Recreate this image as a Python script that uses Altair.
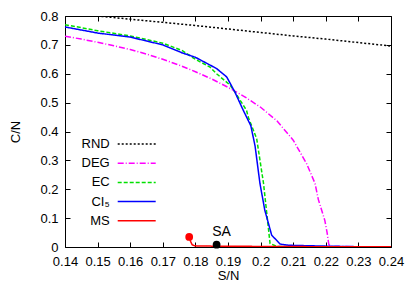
import altair as alt
import pandas as pd

FONT = "Liberation Sans"

series_names = ["RND", "DEG", "EC", "CI₅", "MS"]
series_colors = ["#000000", "#ff00ff", "#00e000", "#0000ff", "#ff0000"]
series_dashes = [[2, 2], [6, 2, 1, 2], [4, 2], [1, 0], [1, 0]]

rnd_x = [0.15, 0.16, 0.17, 0.18, 0.19, 0.20, 0.21, 0.22, 0.23, 0.24]
rnd_y = [0.800, 0.789, 0.778, 0.767, 0.755, 0.743, 0.731, 0.720, 0.708, 0.696]

deg_x = [0.14, 0.145, 0.15, 0.155, 0.16, 0.165, 0.17, 0.175, 0.18, 0.185, 0.19,
         0.195, 0.20, 0.205, 0.21, 0.2141, 0.2167, 0.2177, 0.2197, 0.2204,
         0.2209, 0.2215, 0.23, 0.24]
deg_y = [0.730, 0.720, 0.709, 0.697, 0.684, 0.668, 0.650, 0.630, 0.607, 0.582,
         0.553, 0.521, 0.484, 0.437, 0.370, 0.289, 0.220, 0.165, 0.092, 0.050,
         0.010, 0.002, 0.001, 0.001]

ec_x = [0.14, 0.15, 0.16, 0.17, 0.176, 0.18, 0.1845, 0.1865, 0.1907, 0.1921,
        0.1957, 0.1962, 0.1988, 0.2009, 0.2019, 0.2029, 0.205, 0.21, 0.22,
        0.23, 0.24]
ec_y = [0.770, 0.749, 0.731, 0.706, 0.680, 0.650, 0.623, 0.600, 0.560, 0.537,
        0.473, 0.450, 0.375, 0.220, 0.116, 0.012, 0.002, 0.001, 0.001,
        0.001, 0.001]

ci_x = [0.14, 0.15, 0.16, 0.17, 0.176, 0.18, 0.1835, 0.1865, 0.1896, 0.1921,
        0.1947, 0.1970, 0.1983, 0.1998, 0.2013, 0.2034, 0.206, 0.2085, 0.22,
        0.23, 0.24]
ci_y = [0.762, 0.741, 0.727, 0.700, 0.672, 0.657, 0.636, 0.618, 0.589, 0.537,
        0.473, 0.420, 0.350, 0.220, 0.127, 0.041, 0.010, 0.006, 0.003,
        0.001, 0.001]

ms_x = [0.1781, 0.1785, 0.1790, 0.1797, 0.185, 0.20, 0.22, 0.24]
ms_y = [0.035, 0.020, 0.008, 0.004, 0.003, 0.002, 0.001, 0.001]

sa_x = [0.1865]
sa_y = [0.008]
sa_label = ["SA"]

x_ticks = [0.14, 0.15, 0.16, 0.17, 0.18, 0.19, 0.20, 0.21, 0.22, 0.23, 0.24]
y_ticks = [0.0, 0.1, 0.2, 0.3, 0.4, 0.5, 0.6, 0.7, 0.8]

rows = []
for name, xs, ys in [("RND", rnd_x, rnd_y), ("DEG", deg_x, deg_y),
                     ("EC", ec_x, ec_y), ("CI₅", ci_x, ci_y), ("MS", ms_x, ms_y)]:
    for i, (xv, yv) in enumerate(zip(xs, ys)):
        rows.append({"series": name, "x": xv, "y": yv, "order": i})
lines_df = pd.DataFrame(rows)
ms_start = pd.DataFrame({"x": ms_x[:1], "y": ms_y[:1]})
sa_df = pd.DataFrame({"x": sa_x, "y": sa_y, "label": sa_label})

xscale = alt.Scale(domain=[0.14, 0.24], nice=False, zero=False)
yscale = alt.Scale(domain=[0, 0.8], nice=False, zero=False)

tick_common = dict(domain=False, grid=False, ticks=True, tickSize=alt.ExprRef("-5"),
                   tickWidth=1, tickColor="black")
text_common = dict(labelFont=FONT, labelFontSize=13, labelColor="black",
                   labelFlush=False, labelOverlap=False, titleFont=FONT,
                   titleFontSize=13, titleFontWeight="normal", titleColor="black")

x_bottom = alt.Axis(orient="bottom", values=x_ticks, format=".2~f", labelPadding=13,
                    title="S/N", titlePadding=1, **tick_common, **text_common)
y_left = alt.Axis(orient="left", values=y_ticks, format=".1~f", labelPadding=12,
                  title="C/N", titlePadding=17, **tick_common, **text_common)
x_top = alt.Axis(orient="top", values=x_ticks, labels=False, title=None, **tick_common)
y_right = alt.Axis(orient="right", values=y_ticks, labels=False, title=None, **tick_common)

legend = alt.Legend(orient="none", legendX=61.2, legendY=117.5, title=None,
                    symbolType="M-2,0H2", symbolSize=361, symbolStrokeWidth=1.5,
                    labelAlign="right", labelOffset=alt.ExprRef("-37.5"),
                    labelFont=FONT, labelFontSize=13, labelColor="black",
                    rowPadding=1.2, padding=0, labelLimit=0)

lines = alt.Chart(lines_df).mark_line(strokeWidth=1.5, clip=True).encode(
    x=alt.X("x:Q", scale=xscale, axis=x_bottom),
    y=alt.Y("y:Q", scale=yscale, axis=y_left),
    color=alt.Color("series:N", scale=alt.Scale(domain=series_names, range=series_colors),
                    legend=legend),
    strokeDash=alt.StrokeDash("series:N",
                              scale=alt.Scale(domain=series_names, range=series_dashes),
                              legend=legend),
    order="order:Q",
)

ms_dot = alt.Chart(ms_start).mark_circle(size=60, color="#ff0000", opacity=1).encode(
    x=alt.X("x:Q", scale=xscale, axis=None),
    y=alt.Y("y:Q", scale=yscale, axis=None),
)

sa_dot = alt.Chart(sa_df).mark_circle(size=60, color="black", opacity=1).encode(
    x=alt.X("x:Q", scale=xscale, axis=x_top),
    y=alt.Y("y:Q", scale=yscale, axis=y_right),
)

sa_text = alt.Chart(sa_df).mark_text(font=FONT, fontSize=14, color="black",
                                     align="center", baseline="alphabetic",
                                     dx=5, dy=-9).encode(
    x=alt.X("x:Q", scale=xscale, axis=None),
    y=alt.Y("y:Q", scale=yscale, axis=None),
    text="label:N",
)

chart = alt.layer(lines, ms_dot, sa_dot, sa_text).properties(
    width=326, height=231, autosize="none",
    padding={"left": 57, "top": 8, "right": 16, "bottom": 35},
).configure(font=FONT).configure_view(stroke="black", strokeWidth=1)

chart.save("out.html", embed_options={"renderer": "svg", "actions": False})
